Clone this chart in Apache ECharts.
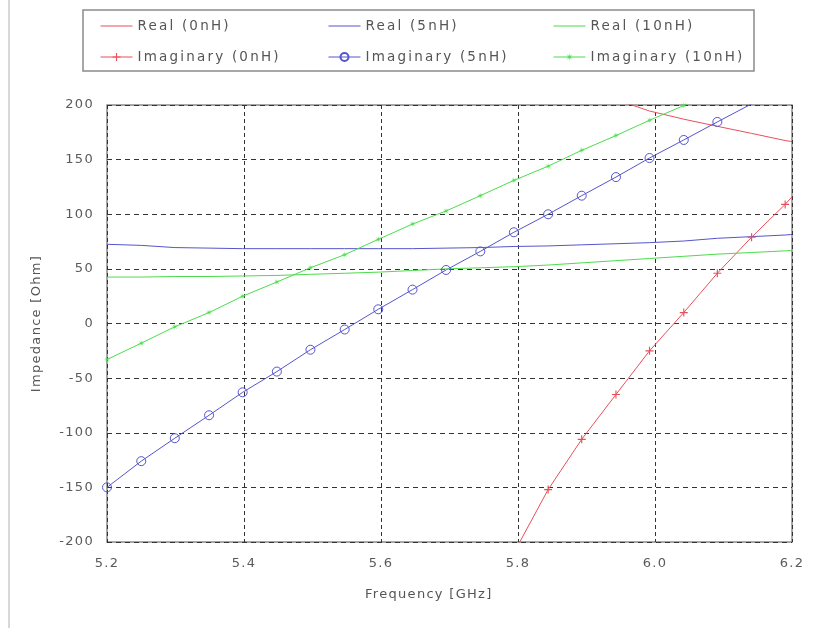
<!DOCTYPE html>
<html>
<head>
<meta charset="utf-8">
<script src="https://cdn.jsdelivr.net/npm/echarts@6/dist/echarts.min.js"></script>
<style>
html,body{margin:0;padding:0;background:#fff;}
#chart{width:815px;height:628px;}
</style>
</head>
<body>
<div id="chart"></div>
<script>
// Frequency samples [GHz]
var freq = [5.200, 5.250, 5.299, 5.349, 5.398, 5.448, 5.497, 5.547, 5.596, 5.646, 5.695,
            5.745, 5.794, 5.844, 5.893, 5.943, 5.992, 6.042, 6.091, 6.141, 6.190, 6.200];

var real0 = [null, null, null, null, null, null, null, null, null, null, null,
             null, null, null, null, 205, 194.5, 187, 180.5, 174, 167.5, 166.5];
var imag0 = [null, null, null, null, null, null, null, null, null, null, null,
             null, -210, -152, -106, -65, -25, 10, 46, 79, 109, 116];

var real5 = [72.5, 71.5, 69.5, 69, 68.5, 68.5, 68.5, 68.5, 68.5, 68.5, 69,
             69.5, 70.5, 71, 72, 73, 74, 75.5, 78, 79.5, 81, 81.5];
var imag5 = [-150, -126, -105, -84, -63, -44, -24, -5.5, 13, 31, 49,
             66, 83.5, 100, 117, 134, 151.5, 168, 184.5, 201, 217, 220];

var real10 = [42.5, 42.5, 43, 43, 43.5, 44, 45, 46, 47, 48.5, 50,
              51, 52, 53.5, 55.5, 57.5, 59.5, 61.5, 63.5, 65, 66.5, 66.8];
var imag10 = [-33, -18, -3, 10, 25, 38, 51, 63, 77, 91, 103,
              117, 131, 144, 158.5, 172, 186, 199.5, 214, 228, 242, 245];

var seriesNames = ['Real (0nH)', 'Imaginary (0nH)', 'Real (5nH)', 'Imaginary (5nH)', 'Real (10nH)', 'Imaginary (10nH)'];
var xTicks = ['5.2', '5.4', '5.6', '5.8', '6.0', '6.2'];
var yTicks = [-200, -150, -100, -50, 0, 50, 100, 150, 200];

// The reference text is drawn with wide letter spacing; emulate it on the canvas.
(function () {
  var proto = CanvasRenderingContext2D.prototype;
  var orig = proto.fillText;
  proto.fillText = function () {
    try { this.letterSpacing = (this.font.indexOf('13.5px') >= 0) ? '2.2px' : '1.3px'; } catch (e) {}
    return orig.apply(this, arguments);
  };
})();

var RED = '#e8505a', BLUE = '#5555cc', GREEN = '#4cdc4c';
var plusPath = 'path://M3,0h1v3h3v1h-3v3h-1v-3h-3v-1h3z';
var starPath = 'path://M10,5 L6.11,5.46 L8.54,8.54 L5.46,6.11 L5,10 L4.54,6.11 L1.46,8.54 L3.89,5.46 L0,5 L3.89,4.54 L1.46,1.46 L4.54,3.89 L5,0 L5.46,3.89 L8.54,1.46 L6.11,4.54 Z';
var lineIcon = 'path://M0,0h32v1.2h-32z';

function pairs(vals, lastNoSymbol) {
  return freq.map(function (f, i) {
    var v = vals[i];
    if (v === null) return [f, null];
    if (lastNoSymbol && i === freq.length - 1) return {value: [f, v], symbol: 'none'};
    return [f, v];
  });
}

function realSeries(name, vals, color) {
  return {
    name: name, type: 'line', data: pairs(vals, false), showSymbol: false, symbol: 'none',
    lineStyle: {color: color, width: 1}, itemStyle: {color: color},
    animation: false, clip: true, connectNulls: false
  };
}
function imagSeries(name, vals, color, symbol, size, hollow) {
  return {
    name: name, type: 'line', data: pairs(vals, true), symbol: symbol, symbolSize: size,
    showSymbol: true, showAllSymbol: true,
    lineStyle: {color: color, width: 1},
    itemStyle: hollow ? {color: 'rgba(255,255,255,0)', borderColor: color, borderWidth: 1}
                      : {color: color, borderWidth: 0},
    animation: false, clip: true
  };
}

var chart = echarts.init(document.getElementById('chart'), null, {renderer: 'canvas'});
var legendText = {color: '#555', fontSize: 13.5, fontFamily: 'DejaVu Sans', padding: [0, 0, 0, 0]};
function legend(left, realName, imagName) {
  return {
    data: [{name: realName, icon: lineIcon}, {name: imagName}],
    left: left, top: 14, orient: 'vertical', itemWidth: 32, itemHeight: 10,
    itemGap: 17, textStyle: legendText, selectedMode: false, z: 10,
    lineStyle: {width: 1}
  };
}

chart.setOption({
  backgroundColor: '#fff',
  animation: false,
  graphic: [
    {type: 'line', shape: {x1: 9, y1: 0, x2: 9, y2: 628}, style: {stroke: '#d8d8d8', lineWidth: 2}, silent: true},
    {type: 'rect', shape: {x: 83, y: 10, width: 671, height: 61}, style: {fill: '#fff', stroke: '#8a8a8a', lineWidth: 1.5}, z: 1, silent: true},
    {type: 'text', left: 365, top: 588, style: {text: 'Frequency [GHz]', fill: '#555', font: '13px "DejaVu Sans"'}, silent: true}
  ],
  legend: [
    legend(95, seriesNames[0], seriesNames[1]),
    legend(323, seriesNames[2], seriesNames[3]),
    legend(548, seriesNames[4], seriesNames[5])
  ],
  grid: {left: 107, right: 23, top: 105, bottom: 86, show: true, borderColor: '#8a8a8a', borderWidth: 1.5, backgroundColor: '#fff'},
  xAxis: {
    type: 'value', min: 5.2, max: 6.2, interval: 0.2,
    axisLine: {show: false}, axisTick: {show: false},
    axisLabel: {
      color: '#5a5a5a', fontSize: 13, fontFamily: 'DejaVu Sans', margin: 15,
      formatter: function (v) { var s = v.toFixed(1); return xTicks.indexOf(s) >= 0 ? s : ''; }
    },
    splitLine: {show: true, lineStyle: {color: '#333', type: [4, 3], width: 1}}
  },
  yAxis: {
    type: 'value', min: -200, max: 200, interval: 50,
    name: 'Impedance [Ohm]', nameLocation: 'middle', nameGap: 64, nameRotate: 90,
    nameTextStyle: {color: '#555', fontSize: 13, fontFamily: 'DejaVu Sans'},
    axisLine: {show: false}, axisTick: {show: false},
    axisLabel: {
      color: '#5a5a5a', fontSize: 13, fontFamily: 'DejaVu Sans', margin: 13,
      formatter: function (v) { return yTicks.indexOf(v) >= 0 ? String(v) : ''; }
    },
    splitLine: {show: true, lineStyle: {color: '#333', type: [5, 4], width: 1}}
  },
  series: [
    realSeries(seriesNames[0], real0, RED),
    imagSeries(seriesNames[1], imag0, RED, plusPath, 8, false),
    realSeries(seriesNames[2], real5, BLUE),
    imagSeries(seriesNames[3], imag5, BLUE, 'circle', 9, true),
    realSeries(seriesNames[4], real10, GREEN),
    imagSeries(seriesNames[5], imag10, GREEN, starPath, 7, false)
  ]
});
</script>
</body>
</html>
